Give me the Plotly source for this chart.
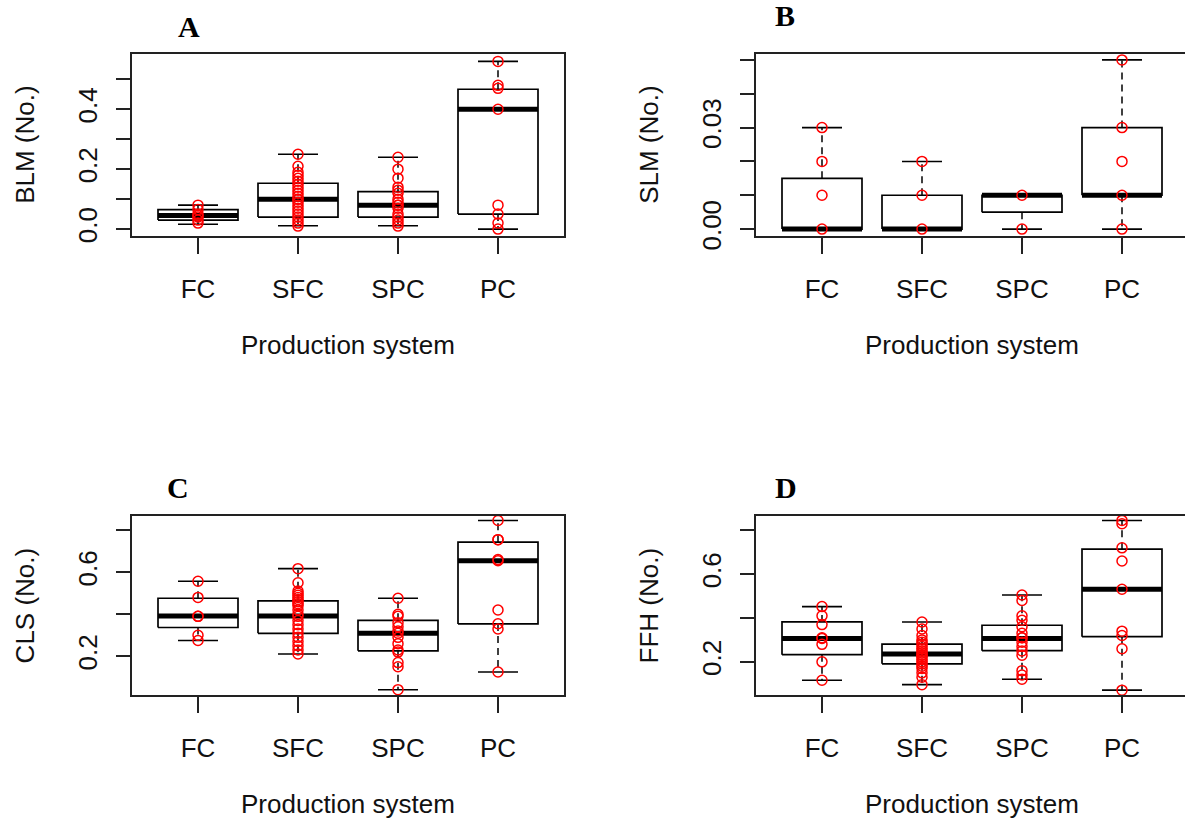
import plotly.graph_objects as go

# ---- data -------------------------------------------------------------
categories = ["FC", "SFC", "SPC", "PC"]

# Panel A: BLM
blm_q1 = [0.030, 0.040, 0.040, 0.050]
blm_med = [0.045, 0.100, 0.080, 0.400]
blm_q3 = [0.065, 0.153, 0.125, 0.467]
blm_lo = [0.016, 0.011, 0.011, 0.000]
blm_hi = [0.080, 0.250, 0.240, 0.560]
blm_fc = [0.02, 0.03, 0.04, 0.045, 0.05, 0.065, 0.08]
blm_sfc = [0.01, 0.02, 0.03, 0.04, 0.05, 0.06, 0.07, 0.08, 0.09, 0.10, 0.10,
           0.11, 0.12, 0.13, 0.14, 0.15, 0.16, 0.17, 0.18, 0.19, 0.21, 0.25]
blm_spc = [0.01, 0.02, 0.03, 0.04, 0.05, 0.07, 0.08, 0.08, 0.09, 0.10, 0.12,
           0.13, 0.14, 0.17, 0.20, 0.24]
blm_pc = [0.00, 0.02, 0.05, 0.08, 0.40, 0.47, 0.48, 0.56]

# Panel B: SLM
slm_q1 = [0.000, 0.000, 0.005, 0.010]
slm_med = [0.000, 0.000, 0.010, 0.010]
slm_q3 = [0.015, 0.010, 0.010, 0.030]
slm_lo = [0.000, 0.000, 0.000, 0.000]
slm_hi = [0.030, 0.020, 0.010, 0.050]
slm_fc = [0.00, 0.01, 0.02, 0.03]
slm_sfc = [0.00, 0.01, 0.02]
slm_spc = [0.00, 0.01]
slm_pc = [0.00, 0.01, 0.02, 0.03, 0.05]

# Panel C: CLS
cls_q1 = [0.337, 0.309, 0.226, 0.354]
cls_med = [0.392, 0.392, 0.309, 0.655]
cls_q3 = [0.476, 0.464, 0.371, 0.743]
cls_lo = [0.275, 0.211, 0.041, 0.125]
cls_hi = [0.557, 0.617, 0.476, 0.846]
cls_fc = [0.275, 0.30, 0.39, 0.39, 0.48, 0.557]
cls_sfc = [0.211, 0.23, 0.25, 0.27, 0.29, 0.31, 0.33, 0.35, 0.37, 0.39, 0.40,
           0.42, 0.44, 0.45, 0.46, 0.47, 0.48, 0.49, 0.50, 0.51, 0.55, 0.617]
cls_spc = [0.041, 0.15, 0.17, 0.22, 0.23, 0.26, 0.29, 0.31, 0.32, 0.34, 0.36,
           0.39, 0.40, 0.476]
cls_pc = [0.125, 0.33, 0.355, 0.42, 0.655, 0.66, 0.755, 0.755, 0.846]

# Panel D: FFH
ffh_q1 = [0.233, 0.191, 0.251, 0.315]
ffh_med = [0.307, 0.236, 0.307, 0.531]
ffh_q3 = [0.382, 0.281, 0.367, 0.714]
ffh_lo = [0.116, 0.096, 0.121, 0.071]
ffh_hi = [0.452, 0.382, 0.505, 0.845]
ffh_fc = [0.116, 0.20, 0.28, 0.307, 0.31, 0.37, 0.41, 0.452]
ffh_sfc = [0.096, 0.13, 0.15, 0.17, 0.18, 0.19, 0.20, 0.21, 0.22, 0.23, 0.23,
           0.24, 0.25, 0.26, 0.27, 0.28, 0.29, 0.30, 0.32, 0.35, 0.382]
ffh_spc = [0.121, 0.14, 0.16, 0.23, 0.25, 0.27, 0.29, 0.31, 0.31, 0.33, 0.36,
           0.39, 0.41, 0.48, 0.505]
ffh_pc = [0.071, 0.26, 0.32, 0.34, 0.531, 0.66, 0.72, 0.83, 0.845]

# y-axis tick positions and labels
blm_ticks = [0.0, 0.1, 0.2, 0.3, 0.4, 0.5]
blm_labels = ["0.0", "", "0.2", "", "0.4", ""]
slm_ticks = [0.00, 0.01, 0.02, 0.03, 0.04, 0.05]
slm_labels = ["0.00", "", "", "0.03", "", ""]
cls_ticks = [0.2, 0.4, 0.6, 0.8]
cls_labels = ["0.2", "", "0.6", ""]
ffh_ticks = [0.2, 0.4, 0.6, 0.8]
ffh_labels = ["0.2", "", "0.6", ""]

# ---- page geometry (pixels) ------------------------------------------
W, H = 1185, 833
FONT = "Liberation Sans, Arial, sans-serif"
SERIF = "Liberation Serif, Times New Roman, serif"
TXT = 26


def px_x(p):
    return p / W


def px_y(p):
    return 1 - p / H


panels = [
    dict(ax="", name="BLM (No.)", letter="A", letter_xy=(189, 27),
         xpx=(132, 564), ypx=(55, 240), yrange=[-0.0220, 0.5846],
         xrange=[0.34, 4.66], mirror=True,
         q1=blm_q1, med=blm_med, q3=blm_q3, lo=blm_lo, hi=blm_hi,
         pts=[blm_fc, blm_sfc, blm_spc, blm_pc],
         ticks=blm_ticks, labels=blm_labels),
    dict(ax="2", name="SLM (No.)", letter="B", letter_xy=(785, 16),
         xpx=(756, 1185), ypx=(55, 240), yrange=[-0.00194, 0.05174],
         xrange=[0.34, 4.63], mirror=False,
         q1=slm_q1, med=slm_med, q3=slm_q3, lo=slm_lo, hi=slm_hi,
         pts=[slm_fc, slm_sfc, slm_spc, slm_pc],
         ticks=slm_ticks, labels=slm_labels),
    dict(ax="3", name="CLS (No.)", letter="C", letter_xy=(178, 496),
         xpx=(132, 564), ypx=(525, 708), yrange=[0.0145, 0.8696],
         xrange=[0.34, 4.66], mirror=True,
         q1=cls_q1, med=cls_med, q3=cls_q3, lo=cls_lo, hi=cls_hi,
         pts=[cls_fc, cls_sfc, cls_spc, cls_pc],
         ticks=cls_ticks, labels=cls_labels),
    dict(ax="4", name="FFH (No.)", letter="D", letter_xy=(786, 496),
         xpx=(756, 1185), ypx=(525, 708), yrange=[0.0477, 0.8673],
         xrange=[0.34, 4.63], mirror=False,
         q1=ffh_q1, med=ffh_med, q3=ffh_q3, lo=ffh_lo, hi=ffh_hi,
         pts=[ffh_fc, ffh_sfc, ffh_spc, ffh_pc],
         ticks=ffh_ticks, labels=ffh_labels),
]

fig = go.Figure()
annotations = []
HW, CAP = 0.4, 0.2  # half box width and half staple width (category units)

for p in panels:
    xa, ya = "x" + p["ax"], "y" + p["ax"]
    bx, by, wx, wy, cx, cy, mx, my = [], [], [], [], [], [], [], []
    for i in range(len(categories)):
        xc = i + 1
        q1, md, q3, lo, hi = p["q1"][i], p["med"][i], p["q3"][i], p["lo"][i], p["hi"][i]
        bx += [xc - HW, xc + HW, xc + HW, xc - HW, xc - HW, None]
        by += [q1, q1, q3, q3, q1, None]
        wx += [xc, xc, None, xc, xc, None]
        wy += [q3, hi, None, q1, lo, None]
        cx += [xc - CAP, xc + CAP, None, xc - CAP, xc + CAP, None]
        cy += [hi, hi, None, lo, lo, None]
        mx += [xc - HW, xc + HW, None]
        my += [md, md, None]
    line_kw = dict(mode="lines", xaxis=xa, yaxis=ya, showlegend=False, hoverinfo="skip")
    # dashed whiskers, staples, boxes, then thick medians
    fig.add_trace(go.Scatter(x=wx, y=wy, line=dict(color="black", width=1.5, dash="7px,5px"), **line_kw))
    fig.add_trace(go.Scatter(x=cx, y=cy, line=dict(color="black", width=1.6), **line_kw))
    fig.add_trace(go.Scatter(x=bx, y=by, fill="toself", fillcolor="white",
                             line=dict(color="black", width=1.7), **line_kw))
    fig.add_trace(go.Scatter(x=mx, y=my, line=dict(color="black", width=5), **line_kw))
    # individual observations on top
    for i, vals in enumerate(p["pts"]):
        fig.add_trace(go.Scatter(
            x=[i + 1] * len(vals), y=vals, mode="markers", xaxis=xa, yaxis=ya,
            showlegend=False,
            marker=dict(symbol="circle-open", color="red", size=10, line=dict(width=1.5, color="red"))))

    x0, x1 = p["xpx"]
    y0, y1 = p["ypx"]
    fig.layout["xaxis" + p["ax"]] = dict(
        domain=[px_x(x0), px_x(x1)], range=p["xrange"], anchor=ya,
        showline=True, linecolor="#222", linewidth=2, mirror=True,
        ticks="outside", ticklen=16, tickwidth=1.5, tickcolor="#222",
        tickvals=[1, 2, 3, 4], ticktext=categories,
        tickfont=dict(family=FONT, size=TXT, color="#111"),
        ticklabelstandoff=13,
        showgrid=False, zeroline=False, fixedrange=True)
    fig.layout["yaxis" + p["ax"]] = dict(
        domain=[px_y(y1), px_y(y0)], range=p["yrange"], anchor=xa,
        showline=True, linecolor="#222", linewidth=2, mirror=p["mirror"],
        ticks="outside", ticklen=14, tickwidth=1.5, tickcolor="#222",
        tickvals=p["ticks"], ticktext=p["labels"], tickangle=-90,
        tickfont=dict(family=FONT, size=TXT, color="#111"),
        ticklabelstandoff=9,
        showgrid=False, zeroline=False, fixedrange=True)

    # axis titles and panel letter
    annotations.append(dict(text=p["name"], x=px_x(x0 - 107), y=px_y((y0 + y1) / 2),
                            xref="paper", yref="paper", textangle=-90, showarrow=False,
                            xanchor="center", yanchor="middle",
                            font=dict(family=FONT, size=TXT, color="#111")))
    annotations.append(dict(text="Production system", x=px_x((x0 + (x0 + 432)) / 2),
                            y=px_y(y1 + 111), xref="paper", yref="paper", showarrow=False,
                            xanchor="center", yanchor="middle",
                            font=dict(family=FONT, size=TXT, color="#111")))
    lx, ly = p["letter_xy"]
    annotations.append(dict(text="<b>" + p["letter"] + "</b>", x=px_x(lx), y=px_y(ly),
                            xref="paper", yref="paper", showarrow=False,
                            xanchor="center", yanchor="middle",
                            font=dict(family=SERIF, size=30, color="black")))

fig.update_layout(width=W, height=H, margin=dict(l=0, r=0, t=0, b=0),
                  paper_bgcolor="white", plot_bgcolor="white",
                  annotations=annotations, showlegend=False)

fig.write_html("out.html", config={"displayModeBar": False})
